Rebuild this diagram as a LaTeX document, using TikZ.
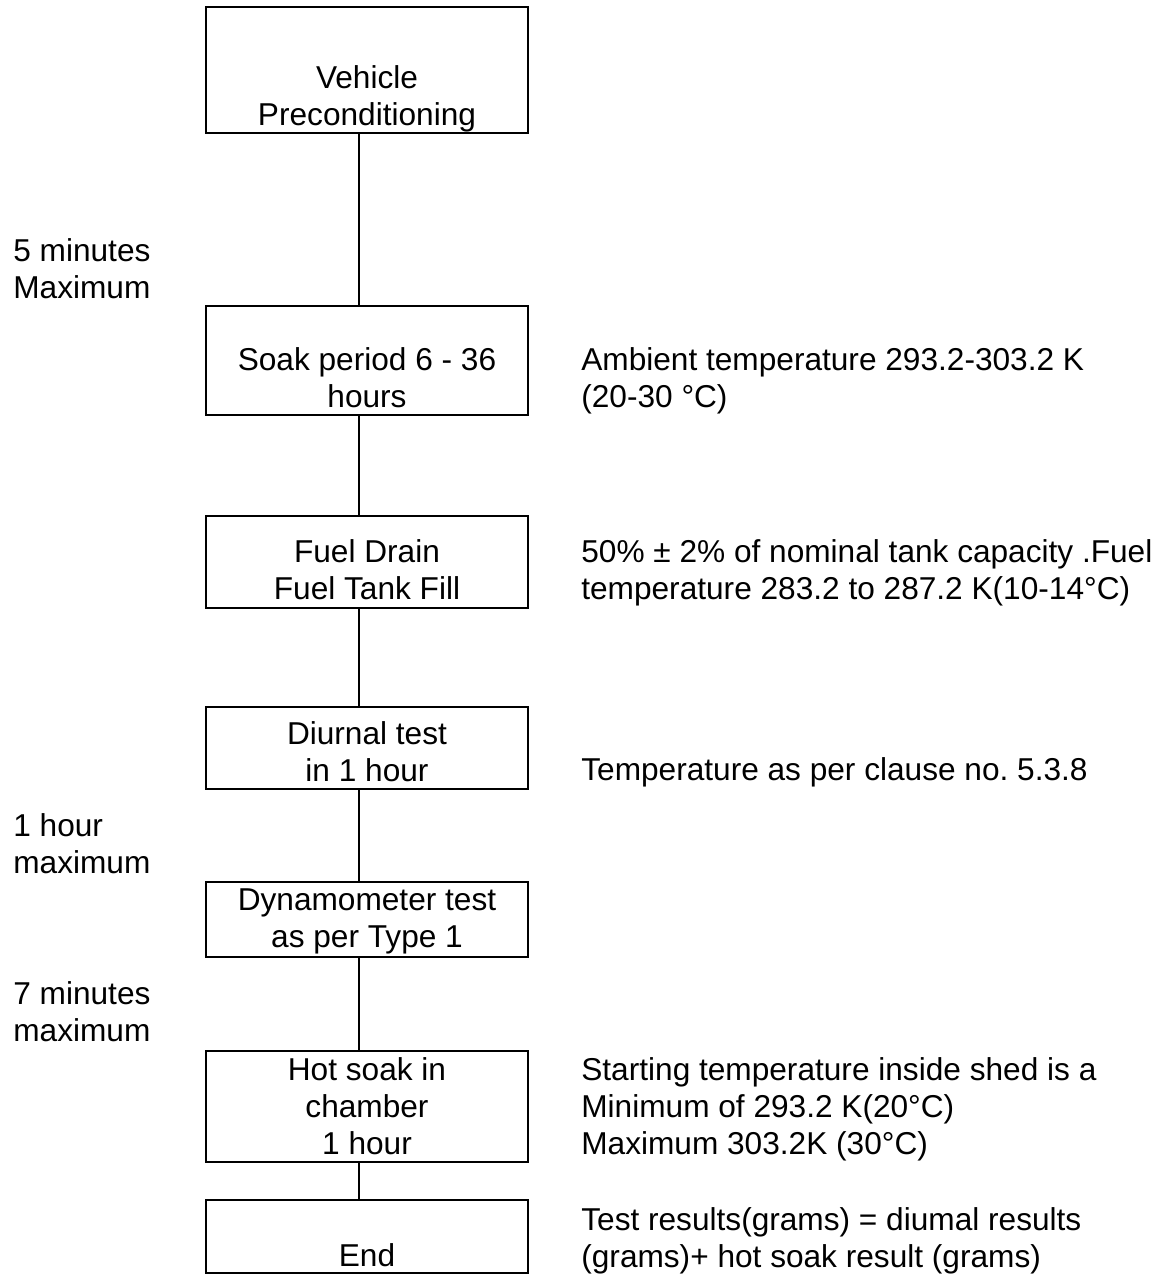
\documentclass[tikz,border=0pt]{standalone}
\usepackage{fontspec}
\setmainfont{Liberation Sans}
\frenchspacing
\begin{document}
\begin{tikzpicture}[x=0.02cm,y=-0.02cm,
  stepbox/.style={draw,line width=1.4pt,minimum width=6.44cm,inner sep=0pt,outer sep=0pt},
  boxtext/.style={align=center,inner sep=0pt,font=\fontsize{18}{21}\selectfont},
  sidenote/.style={align=left,anchor=west,inner sep=0pt,font=\fontsize{18}{21}\selectfont},
  link/.style={line width=1.4pt}]
\useasboundingbox (0,0) rectangle (1166,1275);

% Step boxes
\node[stepbox,minimum height=2.52cm] (vp) at (367,70) {};
\node[stepbox,minimum height=2.18cm] (soak) at (367,360.5) {};
\node[stepbox,minimum height=1.84cm] (fuel) at (367,562) {};
\node[stepbox,minimum height=1.64cm] (diurnal) at (367,748) {};
\node[stepbox,minimum height=1.50cm] (dyno) at (367,919.5) {};
\node[stepbox,minimum height=2.22cm] (hot) at (367,1106.5) {};
\node[stepbox,minimum height=1.46cm] (fin) at (367,1236.5) {};

% Texts in the boxes
\node[boxtext] (vptext) at (367,99) {Vehicle\\Preconditioning};
\node[boxtext] (soaktext) at (367,377.5) {Soak period 6 - 36\\hours};
\node[boxtext] (fueltext) at (367,570) {Fuel Drain\\Fuel Tank Fill};
\node[boxtext] (diurnaltext) at (367,751.5) {Diurnal test\\in 1 hour};
\node[boxtext] (dynotext) at (367,921) {Dynamometer test\\as per Type 1};
\node[boxtext] (hottext) at (367,1106.5) {Hot soak in\\chamber\\1 hour};
\node[boxtext] (fintext) at (367,1255.5) {End};

% Connecting line, a little left of the box centres
\coordinate (spine) at (359,0);
\foreach \a/\b in {vp/soak,soak/fuel,fuel/diurnal,diurnal/dyno,dyno/hot,hot/fin}
  \draw[link] (\a.south -| spine) -- (\b.north -| spine);

% Time limits on the left
\node[sidenote] (gap1) at (13,268.5) {5 minutes\\Maximum};
\node[sidenote] (gap2) at (13,844) {1 hour\\maximum};
\node[sidenote] (gap3) at (13,1012) {7 minutes\\maximum};

% Conditions on the right
\node[sidenote] (cond1) at (581,380.5) {Ambient temperature 293.2-303.2 K\\(20-30 °C)};
\node[sidenote] (cond2) at (581,573) {50\% ± 2\% of nominal tank capacity .Fuel\\temperature 283.2 to 287.2 K(10-14°C)};
\node[sidenote,anchor=base west] (cond3) at (581,780) {Temperature as per clause no. 5.3.8};
\node[sidenote] (cond4) at (581,1109) {Starting temperature inside shed is a\\Minimum of 293.2 K(20°C)\\Maximum 303.2K (30°C)};
\node[sidenote] (cond5) at (581,1241) {Test results(grams) = diumal results\\(grams)+ hot soak result (grams)};
\end{tikzpicture}
\end{document}
